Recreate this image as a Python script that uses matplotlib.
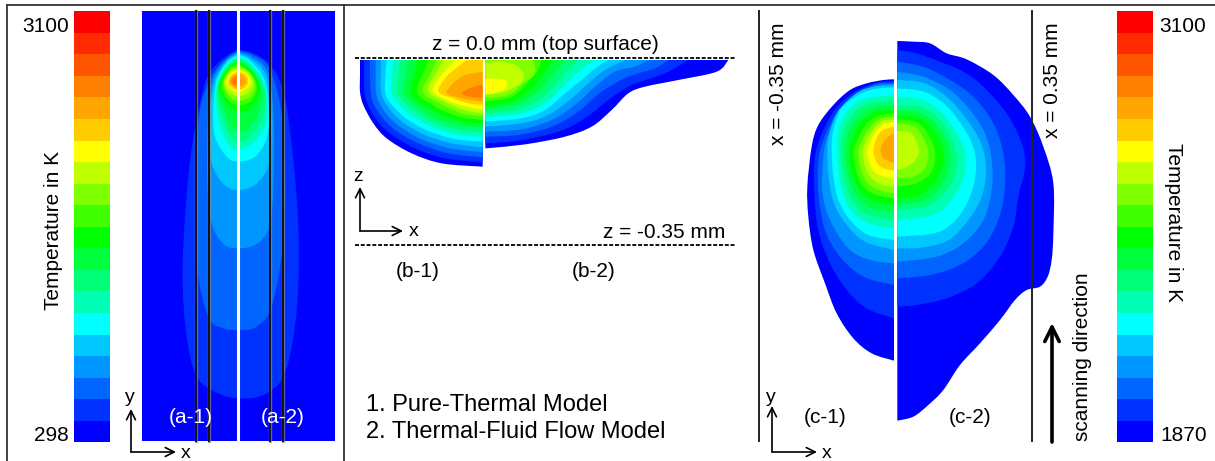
# melt pool temperature figure, contours
import matplotlib
matplotlib.use('Agg')
import matplotlib.pyplot as plt
from matplotlib.path import Path
from matplotlib.patches import PathPatch

plt.rcParams['font.family'] = ['Liberation Sans', 'DejaVu Sans']

# colour bands, coldest first
band_colors = ['#0000ff', '#0032ff', '#0064ff', '#0096ff', '#00c8ff', '#00ffff', '#00ffb4',
               '#00ff78', '#00ff3c', '#00ff00', '#40ff00', '#80ff00', '#bfff00', '#ffff00',
               '#ffcc00', '#ffa500', '#ff7f00', '#ff5500', '#ff2a00', '#ff0000']
bar_left_labels = ['3100', '298']
bar_right_labels = ['3100', '1870']

# panel (a), bands 1..16, traced on a 3x crop
a_bands = [
    [(714,148),(670,175),(625,225),(600,310),(570,480),(552,700),(548,850),(560,1010),(590,1130),(650,1178),(714,1195),(790,1185),(850,1130),(882,1000),(895,850),(895,680),(880,480),(852,280),(810,195),(760,160),(714,148)],
    [(714,152),(675,178),(635,230),(600,330),(587,520),(590,790),(625,950),(670,985),(714,990),(770,980),(815,920),(848,740),(855,540),(845,340),(808,205),(760,165),(714,152)],
    [(714,156),(678,180),(640,235),(625,330),(622,550),(635,670),(670,732),(714,745),(770,732),(808,680),(820,560),(820,340),(802,215),(755,170),(714,156)],
    [(714,160),(680,183),(645,240),(630,330),(628,430),(640,505),(675,556),(714,570),(765,555),(805,500),(815,420),(815,340),(798,225),(750,175),(714,160)],
    [(714,165),(682,186),(650,240),(640,330),(645,410),(680,470),(714,485),(765,470),(800,415),(808,330),(792,235),(748,180),(714,165)],
    [(714,170),(685,190),(655,240),(647,310),(665,395),(690,438),(714,450),(755,432),(795,380),(803,300),(785,235),(745,185),(714,170)],
    [(714,175),(688,193),(660,235),(652,290),(680,390),(714,425),(750,410),(785,360),(796,290),(778,232),(742,190),(714,175)],
    [(714,180),(690,196),(662,235),(656,285),(690,370),(714,395),(745,385),(775,340),(788,285),(770,232),(738,195),(714,180)],
    [(714,185),(690,198),(665,235),(660,275),(690,320),(714,335),(745,330),(770,300),(780,265),(765,225),(738,198),(714,185)],
    [(714,192),(692,203),(668,240),(668,275),(690,305),(718,315),(750,305),(770,270),(762,232),(738,205),(714,192)],
    [(714,198),(694,208),(672,240),(675,270),(695,295),(720,302),(750,290),(765,258),(752,225),(735,208),(714,198)],
    [(714,202),(690,215),(672,245),(682,270),(700,285),(722,288),(745,278),(760,248),(745,218),(714,202)],
    [(714,210),(692,220),(680,245),(690,262),(708,275),(730,272),(748,255),(750,235),(735,218),(714,210)],
    [(714,214),(696,223),(684,245),(694,262),(712,271),(730,266),(745,248),(738,225),(714,214)],
    [(714,220),(698,228),(690,245),(698,258),(712,265),(728,258),(738,245),(730,227),(714,220)],
    [(712,225),(698,235),(693,247),(702,255),(714,257),(722,245),(714,230),(712,225)],
]

# panel (b-1), bands 0..16
b1_bands = [
    [(15,15),(15,60),(15,110),(25,150),(55,205),(95,250),(170,295),(260,325),(383,335)],
    [(27,15),(27,60),(28,110),(38,148),(65,195),(105,235),(180,280),(270,310),(383,322)],
    [(45,15),(45,60),(47,110),(55,145),(80,185),(120,225),(190,265),(280,295),(383,307)],
    [(62,15),(62,60),(63,110),(72,142),(95,178),(135,215),(200,253),(285,280),(383,292)],
    [(78,15),(77,60),(78,110),(88,138),(112,172),(148,205),(210,240),(290,265),(383,277)],
    [(95,15),(91,60),(90,110),(100,135),(125,165),(160,195),(220,228),(300,252),(383,260)],
    [(115,15),(110,60),(108,110),(118,130),(142,158),(175,185),(230,215),(305,238),(383,245)],
    [(138,15),(130,60),(125,110),(135,127),(158,150),(188,175),(240,205),(310,225),(383,232)],
    [(160,15),(152,60),(145,110),(153,125),(172,142),(200,165),(250,195),(315,212),(383,218)],
    [(190,15),(178,60),(165,110),(178,130),(215,155),(260,180),(320,200),(383,205)],
    [(220,15),(202,60),(185,100),(195,125),(230,148),(270,170),(325,188),(383,195)],
    [(245,15),(225,60),(205,95),(210,120),(245,140),(285,160),(330,178),(383,183)],
    [(265,15),(243,55),(222,90),(225,115),(258,135),(300,155),(340,168),(383,175)],
    [(300,15),(268,50),(240,85),(235,112),(275,135),(315,150),(383,165)],
    [(335,15),(300,42),(270,70),(250,110),(295,130),(340,145),(383,150)],
    [(383,50),(320,65),(275,112),(320,130),(383,140)],
    [(383,88),(345,100),(320,115),(345,125),(383,128)],
]

# panel (b-2), bands 0..13
b2_bands = [
    [(421,355),(480,350),(560,340),(660,320),(740,290),(800,240),(850,190),(900,170),(1000,150),(1115,125),(1150,90)],
    [(421,340),(520,332),(640,305),(720,265),(790,210),(860,165),(960,130),(1030,90)],
    [(421,320),(520,315),(620,290),(700,245),(770,185),(850,140),(930,115),(970,90)],
    [(421,305),(530,298),(620,270),(690,225),(750,170),(810,125),(870,110),(910,90)],
    [(421,290),(530,280),(610,255),(680,205),(730,160),(780,120),(840,90)],
    [(421,275),(530,265),(600,240),(660,190),(710,150),(750,115),(790,90)],
    [(421,262),(530,250),(600,220),(650,175),(690,135),(720,110),(750,90)],
    [(421,250),(520,238),(590,205),(630,165),(665,125),(700,90)],
    [(421,240),(510,225),(575,190),(610,150),(640,115),(660,90)],
    [(421,230),(500,215),(555,180),(590,140),(610,110),(625,90)],
    [(421,215),(500,200),(545,160),(575,125),(590,90)],
    [(421,205),(490,195),(535,160),(570,130),(565,90)],
    [(421,195),(480,185),(535,150),(520,110),(470,95),(421,100)],
    [(421,145),(480,150),(482,175),(445,190),(421,192)],
]

# panel (c-1), bands 0..15
c1_bands = [
    [(432,238),(400,240),(350,250),(300,270),(250,315),(205,375),(185,440),(172,560),(175,650),(190,750),(225,850),(260,940),(310,1015),(365,1060),(432,1082)],
    [(432,243),(380,248),(310,278),(255,328),(218,395),(195,470),(193,580),(205,690),(240,790),(290,870),(350,925),(432,955)],
    [(432,248),(378,252),(315,282),(262,335),(228,400),(207,470),(205,580),(225,690),(270,770),(340,830),(432,855)],
    [(432,252),(375,257),(322,285),(270,340),(235,405),(220,470),(218,580),(240,660),(295,745),(360,780),(432,790)],
    [(432,256),(375,260),(325,276),(268,328),(240,392),(232,450),(236,530),(252,610),(290,675),(345,725),(432,750)],
    [(432,262),(380,266),(330,282),(275,325),(250,390),(245,450),(250,530),(265,600),(300,660),(355,705),(432,720)],
    [(432,285),(375,290),(335,300),(290,335),(265,390),(262,450),(268,530),(285,600),(320,650),(375,675),(432,685)],
    [(432,300),(380,305),(340,315),(305,345),(280,395),(272,450),(280,525),(300,590),(335,635),(385,652),(432,660)],
    [(432,315),(385,318),(350,330),(318,358),(295,400),(285,450),(293,520),(315,580),(350,618),(395,630),(432,635)],
    [(432,330),(388,333),(358,345),(330,370),(310,410),(298,450),(305,515),(330,570),(365,600),(432,615)],
    [(432,340),(392,345),(365,358),(342,382),(322,420),(310,455),(318,510),(340,560),(380,585),(432,595)],
    [(432,350),(395,355),(372,370),(352,392),(335,425),(325,455),(332,505),(352,548),(392,572),(432,580)],
    [(432,358),(400,362),(378,378),(360,402),(345,430),(338,455),(345,500),(365,535),(398,555),(432,560)],
    [(432,365),(402,372),(382,388),(368,410),(352,450),(360,495),(382,522),(432,538)],
    [(432,380),(405,388),(385,405),(370,450),(382,490),(402,505),(432,512)],
    [(432,400),(412,412),(395,435),(392,455),(402,475),(432,490)],
]

# panel (c-2), bands 0..12
c2_bands = [
    [(442,123),(490,125),(540,130),(590,160),(650,178),(730,225),(790,285),(840,350),(880,440),(910,550),(910,700),(905,780),(893,830),(870,860),(830,870),(795,900),(750,960),(690,1030),(630,1095),(580,1170),(535,1215),(490,1250),(442,1262)],
    [(442,150),(500,160),(570,185),(640,215),(700,260),(770,340),(815,430),(825,500),(805,590),(790,680),(750,770),(680,850),(590,895),(500,915),(442,920)],
    [(442,185),(520,200),(600,240),(670,290),(730,370),(760,460),(765,560),(745,660),(700,740),(630,795),(540,825),(442,835)],
    [(442,215),(520,230),(600,270),(660,330),(705,400),(725,480),(725,570),(700,660),(640,730),(560,770),(442,785)],
    [(442,240),(530,252),(620,320),(700,450),(695,590),(610,710),(520,742),(442,745)],
    [(442,265),(530,278),(610,340),(675,460),(660,590),(580,690),(442,710)],
    [(442,290),(520,300),(590,355),(645,455),(630,560),(560,640),(442,660)],
    [(442,315),(515,322),(575,365),(620,460),(605,550),(540,615),(442,630)],
    [(442,330),(510,338),(560,375),(600,455),(585,540),(525,600),(442,615)],
    [(442,345),(505,352),(545,385),(580,455),(565,530),(510,585),(442,595)],
    [(442,358),(495,365),(530,395),(555,455),(545,515),(500,550),(442,560)],
    [(442,370),(490,378),(515,405),(535,455),(525,505),(490,530),(442,535)],
    [(442,392),(480,398),(497,420),(508,455),(492,485),(465,503),(442,510)],
]


def smooth_band(ax, pts, level, ox, oy, corner=None):
    # curve through the traced points, crop coords -> figure pixels
    p = [(ox + x / 3, oy + y / 3) for x, y in pts]
    verts = [p[0]]
    codes = [Path.MOVETO]
    for i in range(len(p) - 1):
        a = p[max(i - 1, 0)]
        d = p[min(i + 2, len(p) - 1)]
        c1 = (p[i][0] + (p[i + 1][0] - a[0]) / 6, p[i][1] + (p[i + 1][1] - a[1]) / 6)
        c2 = (p[i + 1][0] - (d[0] - p[i][0]) / 6, p[i + 1][1] - (d[1] - p[i][1]) / 6)
        verts += [c1, c2, p[i + 1]]
        codes += [Path.CURVE4] * 3
    if corner is not None:
        verts.append((ox + corner[0] / 3, oy + corner[1] / 3))
        codes.append(Path.LINETO)
    verts.append(p[0])
    codes.append(Path.CLOSEPOLY)
    ax.add_patch(PathPatch(Path(verts, codes), facecolor=band_colors[level], edgecolor='none', zorder=2))


def axes_arrows(ax, x0, y0, up, right):
    ax.annotate('', xy=(x0, up), xytext=(x0, y0), arrowprops=dict(arrowstyle='->', color='k', lw=1.2, mutation_scale=16, shrinkA=0, shrinkB=0), zorder=6)
    ax.annotate('', xy=(right, y0), xytext=(x0, y0), arrowprops=dict(arrowstyle='->', color='k', lw=1.2, mutation_scale=16, shrinkA=0, shrinkB=0), zorder=6)


fig = plt.figure(figsize=(12.15, 4.61), dpi=100)
ax = fig.add_axes([0, 0, 1, 1])
ax.set_xlim(0, 1215)
ax.set_ylim(461, 0)
ax.axis('off')

# frame
ax.plot([7, 7], [461, 5.5], color='#333333', lw=1.3)
ax.plot([7, 1215], [5.5, 5.5], color='#333333', lw=1.3)
ax.plot([344, 344], [5.5, 461], color='#333333', lw=1.3)

# colour bars
n = len(band_colors)
step = (442 - 11) / n
for x0 in [74, 1117]:
    for i, c in enumerate(band_colors):
        ax.bar(x0, step + 0.3, width=36, bottom=442 - (i + 1) * step, align='edge', color=c, zorder=2)

# panel a
ax.bar(142, 430, width=193, bottom=11, align='edge', color=band_colors[0], zorder=1)
for i, pts in enumerate(a_bands):
    smooth_band(ax, pts, i + 1, 0, 0)
for x in [196, 209, 270, 283]:
    ax.plot([x - 0.5, x - 0.5], [11, 441], color='#888888', lw=2.4, alpha=0.7, zorder=3)
    ax.plot([x, x], [11, 441], color='#111111', lw=1.4, zorder=3)
ax.plot([238, 238], [11, 441], color='white', lw=2.2, zorder=3)

# panel b
for i, pts in enumerate(b1_bands):
    smooth_band(ax, pts, i, 355, 55, corner=(383, 15) if i < 15 else None)
for i, pts in enumerate(b2_bands):
    smooth_band(ax, pts, i, 345, 30, corner=(421, 90) if i < 12 else None)
for y in [58, 245]:
    ax.plot([355, 735], [y, y], color='k', lw=1.3, ls=(0, (2.2, 1)), zorder=4)

# panel c
for i, pts in enumerate(c1_bands):
    smooth_band(ax, pts, i, 750, 0)
for i, pts in enumerate(c2_bands):
    smooth_band(ax, pts, i, 750, 0)
for x in [758.5, 1031.5]:
    ax.plot([x, x], [11, 441], color='#222222', lw=1.4, zorder=4)

# arrows
axes_arrows(ax, 131, 452, 409, 176)
axes_arrows(ax, 360, 231, 187, 403)
axes_arrows(ax, 772, 452, 406, 817)
ax.annotate('', xy=(1052, 323), xytext=(1052, 442), arrowprops=dict(arrowstyle='->', color='k', lw=2.6, mutation_scale=26, shrinkA=0, shrinkB=0), zorder=6)

# text
fs = 15
ax.text(46, 26, bar_left_labels[0], ha='center', va='center', fontsize=fs)
ax.text(51, 435, bar_left_labels[1], ha='center', va='center', fontsize=fs)
ax.text(1183, 26, bar_right_labels[0], ha='center', va='center', fontsize=fs)
ax.text(1184, 435, bar_right_labels[1], ha='center', va='center', fontsize=fs)
ax.text(54, 230, 'Temperature in K', rotation=90, ha='center', va='center', fontsize=fs)
ax.text(1174, 223, 'Temperature in K', rotation=270, ha='center', va='center', fontsize=fs)
ax.text(130, 397, 'y', ha='center', va='center', fontsize=14)
ax.text(186, 453, 'x', ha='center', va='center', fontsize=14)
ax.text(358, 176, 'z', ha='center', va='center', fontsize=14)
ax.text(414, 231, 'x', ha='center', va='center', fontsize=14)
ax.text(771, 397, 'y', ha='center', va='center', fontsize=14)
ax.text(827, 453, 'x', ha='center', va='center', fontsize=14)
ax.text(191, 417, '(a-1)', color='white', ha='center', va='center', fontsize=fs, zorder=7)
ax.text(283, 417, '(a-2)', color='white', ha='center', va='center', fontsize=fs, zorder=7)
ax.text(545, 45, 'z = 0.0 mm (top surface)', ha='center', va='center', fontsize=fs)
ax.text(664, 232, 'z = -0.35 mm', ha='center', va='center', fontsize=fs)
ax.text(418, 271, '(b-1)', ha='center', va='center', fontsize=fs)
ax.text(594, 271, '(b-2)', ha='center', va='center', fontsize=fs)
ax.text(366, 405, '1. Pure-Thermal Model', ha='left', va='center', fontsize=17)
ax.text(366, 432, '2. Thermal-Fluid Flow Model', ha='left', va='center', fontsize=17)
ax.text(779, 84, 'x = -0.35 mm', rotation=90, ha='center', va='center', fontsize=fs)
ax.text(1053, 80, 'x = 0.35 mm', rotation=90, ha='center', va='center', fontsize=fs)
ax.text(1082, 357, 'scanning direction', rotation=90, ha='center', va='center', fontsize=fs)
ax.text(825, 417, '(c-1)', ha='center', va='center', fontsize=fs)
ax.text(970, 417, '(c-2)', ha='center', va='center', fontsize=fs)

fig.savefig('out.png', dpi=100)
